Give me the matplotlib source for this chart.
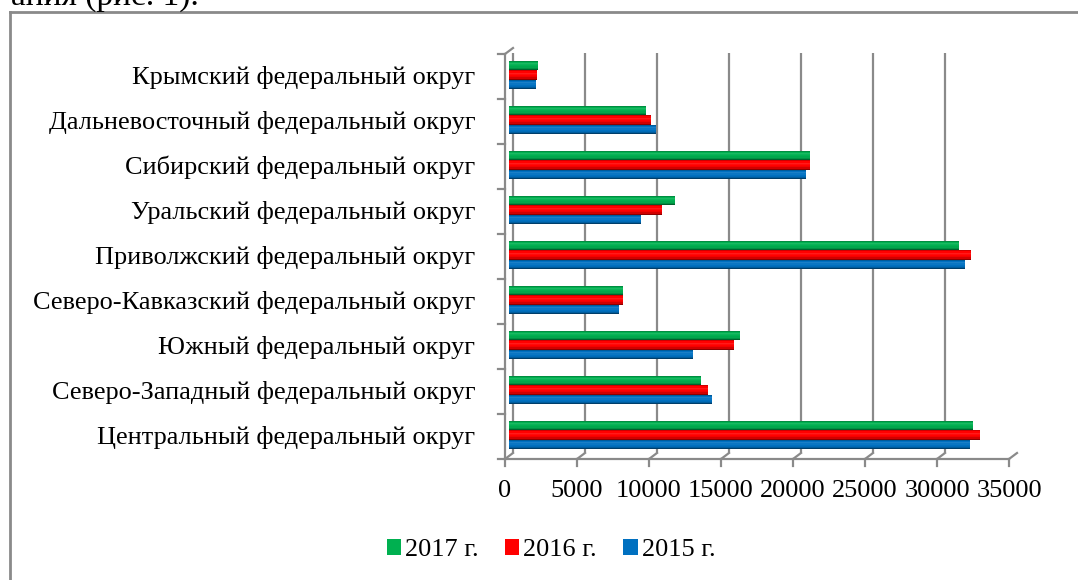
import matplotlib
matplotlib.use("Agg")
import matplotlib.pyplot as plt
import matplotlib.transforms as mtransforms
from matplotlib.patches import Patch
from matplotlib.lines import Line2D
import numpy as np

# ---------------- data ----------------
categories = [
    "Центральный федеральный округ",
    "Северо-Западный федеральный округ",
    "Южный федеральный округ",
    "Северо-Кавказский федеральный округ",
    "Приволжский федеральный округ",
    "Уральский федеральный округ",
    "Сибирский федеральный округ",
    "Дальневосточный федеральный округ",
    "Крымский федеральный округ",
]
v2015 = [32000, 14100, 12800, 7650, 31700, 9200, 20600, 10200, 1850]
v2016 = [32700, 13800, 15650, 7950, 32050, 10650, 20900, 9850, 1950]
v2017 = [32250, 13350, 16050, 7950, 31250, 11500, 20900, 9500, 2000]
series_labels = ["2017 г.", "2016 г.", "2015 г."]
xticks = [0, 5000, 10000, 15000, 20000, 25000, 30000, 35000]

colors = {"2017 г.": "#00B050", "2016 г.": "#FF0000", "2015 г.": "#0070C0"}

FONT = "Liberation Serif"
FS = 18.9
GRID = "#8a8a8a"

W, H = 1078, 580
fig = plt.figure(figsize=(W / 100, H / 100), dpi=100)
fig.patch.set_facecolor("white")

# axes: x 0 -> px 509, 35000 -> px 1013 ; y -0.5 -> px 457.5 (from top), 8.5 -> 52.5
left_px, right_px = 509, 1013
top_px, bot_px = 52.5, 457.5
ax = fig.add_axes([left_px / W, (H - bot_px) / H, (right_px - left_px) / W, (bot_px - top_px) / H])
ax.set_xlim(0, 35000)
ax.set_ylim(-0.5, len(categories) - 0.5)
for s in ax.spines.values():
    s.set_visible(False)
ax.set_facecolor("none")
ax.tick_params(left=False, bottom=False, labelbottom=False)
ax.set_yticks(range(len(categories)))
ax.set_yticklabels(categories, fontfamily=FONT, fontsize=FS, color="black")
ax.tick_params(axis="y", pad=29 * 0.72)

back = mtransforms.offset_copy(ax.transData, fig=fig, x=4, y=4.5, units="dots")
front = mtransforms.offset_copy(ax.transData, fig=fig, x=-4, y=-1.5, units="dots")
front_lbl = mtransforms.offset_copy(ax.transData, fig=fig, x=-4, y=-33.5, units="dots")

ymin, ymax = -0.5, len(categories) - 0.5
lw = 1.6
# back wall gridlines
for v in xticks:
    ax.plot([v, v], [ymin, ymax], color=GRID, lw=lw, transform=back, zorder=1, solid_capstyle="butt")
# front axis line
ax.plot([0, 35000], [ymin, ymin], color=GRID, lw=lw, transform=front, zorder=1, clip_on=False)
# front ticks + floor diagonals
for v in xticks:
    fx, fy = front.transform((v, ymin))
    bx, by = back.transform((v, ymin))
    fig.add_artist(Line2D([fx, bx], [fy, by], transform=None, color=GRID, lw=lw))
    fig.add_artist(Line2D([fx, fx], [fy, fy - 7], transform=None, color=GRID, lw=lw))
    ax.text(v, ymin, f"{v}", transform=front_lbl, ha="center", va="center",
            fontfamily=FONT, fontsize=FS, color="black")
# left vertical axis
ax.plot([0, 0], [ymin, ymax], color=GRID, lw=lw, transform=front, zorder=1, clip_on=False)
for k in range(len(categories) + 1):
    fx, fy = front.transform((0, ymin + k))
    fig.add_artist(Line2D([fx - 7, fx], [fy, fy], transform=None, color=GRID, lw=lw))
# top-left diagonal
fx, fy = front.transform((0, ymax))
bx, by = back.transform((0, ymax))
fig.add_artist(Line2D([fx, bx], [fy, by], transform=None, color=GRID, lw=lw))


def shade(hexcol, f):
    c = np.array(matplotlib.colors.to_rgb(hexcol))
    if f >= 1:
        c = c + (1 - c) * (f - 1)
    else:
        c = c * f
    return np.clip(c, 0, 1)


bar_h = 0.21
offsets = {"2017 г.": 0.215, "2016 г.": 0.0, "2015 г.": -0.215}
values = {"2017 г.": v2017, "2016 г.": v2016, "2015 г.": v2015}
factors = [0.8, 1.0, 1.1, 1.04, 1.0, 0.95, 0.82, 0.55]  # top -> bottom
n = len(factors)
y = np.arange(len(categories))
for lab in ["2015 г.", "2016 г.", "2017 г."]:
    vals = np.array(values[lab])
    for j, f in enumerate(factors):
        yc = y + offsets[lab] + bar_h / 2 - (j + 0.5) * bar_h / n
        ax.barh(yc, vals, height=bar_h / n * 1.02, left=0, color=shade(colors[lab], f),
                edgecolor="none", zorder=3)

# legend
handles = [Patch(facecolor=colors[l], edgecolor="none") for l in series_labels]
leg = fig.legend(handles, series_labels, loc="center", bbox_to_anchor=(551 / W, 1 - 550 / H),
                 ncol=3, frameon=False, prop={"family": FONT, "size": FS},
                 handlelength=0.55, handleheight=0.55, handletextpad=0.15, columnspacing=1.0)

# outer frame
fig.add_artist(Line2D([9.5, 9.5], [0, H - 12], transform=None, color=GRID, lw=2))
fig.add_artist(Line2D([9.5, W], [H - 12, H - 12], transform=None, color=GRID, lw=2))

# cut-off text above the chart (partly outside the page, as in the reference)
fig.text(199 / W, 1 - 5 / H, "ания (рис. 1).", ha="right", va="baseline",
         fontfamily=FONT, fontsize=24, color="black")

fig.savefig("out.png", dpi=100, facecolor="white")
